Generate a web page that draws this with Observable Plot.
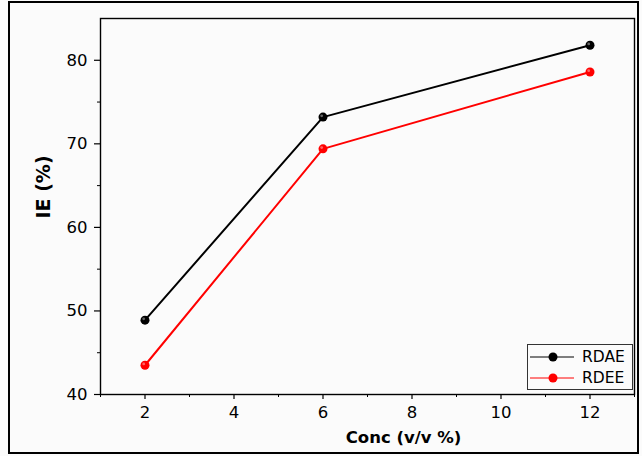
<!DOCTYPE html>
<html><head><meta charset="utf-8">
<script src="https://cdn.jsdelivr.net/npm/d3@7"></script>
<script src="https://cdn.jsdelivr.net/npm/@observablehq/plot@0.6"></script>
<style>
body{margin:0;background:#fff;}
#wrap{position:relative;width:642px;height:456px;background:#fbfbfb;}
#border{position:absolute;left:8px;top:1px;width:627px;height:449px;border:2px solid #000;pointer-events:none;}
#legend{position:absolute;left:527px;top:344px;width:104px;height:44px;border:1px solid #333;background:#fbfbfb;font:15.5px "DejaVu Sans",sans-serif;}
#legend .row{position:absolute;left:0;height:20px;display:flex;align-items:center;}
#legend svg{display:block}
</style></head>
<body>
<div id="wrap"><div id="chart"></div><div id="legend"></div><div id="border"></div></div>
<script>
const conc = [2, 6, 12];
const rdae = [48.9, 73.2, 81.8];
const rdee = [43.5, 69.4, 78.6];
const seriesNames = ["RDAE", "RDEE"];
const seriesColors = ["#000000", "#ff0000"];
const xMajor = [2, 4, 6, 8, 10, 12];
const xMinor = [1, 3, 5, 7, 9, 11, 13];
const yMajor = [40, 50, 60, 70, 80];
const yMinor = [45, 55, 65, 75];

const data = [];
conc.forEach((c, i) => {
  data.push({series: "RDAE", x: c, y: rdae[i]});
  data.push({series: "RDEE", x: c, y: rdee[i]});
});

const font = '"DejaVu Sans", sans-serif';
const chart = Plot.plot({
  width: 642, height: 456,
  marginLeft: 100, marginRight: 8, marginTop: 18, marginBottom: 62,
  style: {background: "transparent", fontFamily: font, fontSize: "16px", color: "#000"},
  x: {domain: [1, 13]},
  y: {domain: [40, 85]},
  color: {domain: seriesNames, range: seriesColors},
  marks: [
    Plot.frame({stroke: "#000", strokeWidth: 1.4}),
    Plot.axisX(xMajor, {tickSize: 5, tickPadding: 7, label: null, fontSize: 16.5, stroke: "#000", strokeWidth: 1.2}),
    Plot.axisX(xMinor, {tickSize: 3, tickFormat: () => "", label: null, stroke: "#000"}),
    Plot.axisY(yMajor, {tickSize: 6, tickPadding: 7, label: null, fontSize: 16.5, stroke: "#000", strokeWidth: 1.2}),
    Plot.axisY(yMinor, {tickSize: 3, tickFormat: () => "", label: null, stroke: "#000"}),
    Plot.line(data, {x: "x", y: "y", z: "series", stroke: "series", strokeWidth: 2}),
    Plot.dot(data, {x: "x", y: "y", fill: "series", r: 4.5}),
    Plot.dot(data, {x: "x", y: "y", fill: "white", fillOpacity: 0.4, r: 1.4, dx: -1.3, dy: -1.3}),
    Plot.text(["Conc (v/v %)"], {frameAnchor: "bottom", dy: 48, dx: 36, fontWeight: "bold", fontSize: 16.5}),
    Plot.text(["IE (%)"], {frameAnchor: "left", dx: -57, dy: 12, rotate: -90, fontWeight: "bold", fontSize: 19})
  ]
});
document.getElementById("chart").appendChild(chart);

const leg = document.getElementById("legend");
seriesNames.forEach((n, i) => {
  const row = document.createElement("div");
  row.className = "row";
  row.style.top = (2 + i * 21) + "px";
  row.innerHTML = `<svg width="52" height="20"><line x1="2" x2="46" y1="10" y2="10" stroke="${seriesColors[i]}" stroke-width="1"/><circle cx="25" cy="10" r="4.5" fill="${seriesColors[i]}"/></svg><span style="margin-left:2px">${n}</span>`;
  leg.appendChild(row);
});
</script>
</body></html>
